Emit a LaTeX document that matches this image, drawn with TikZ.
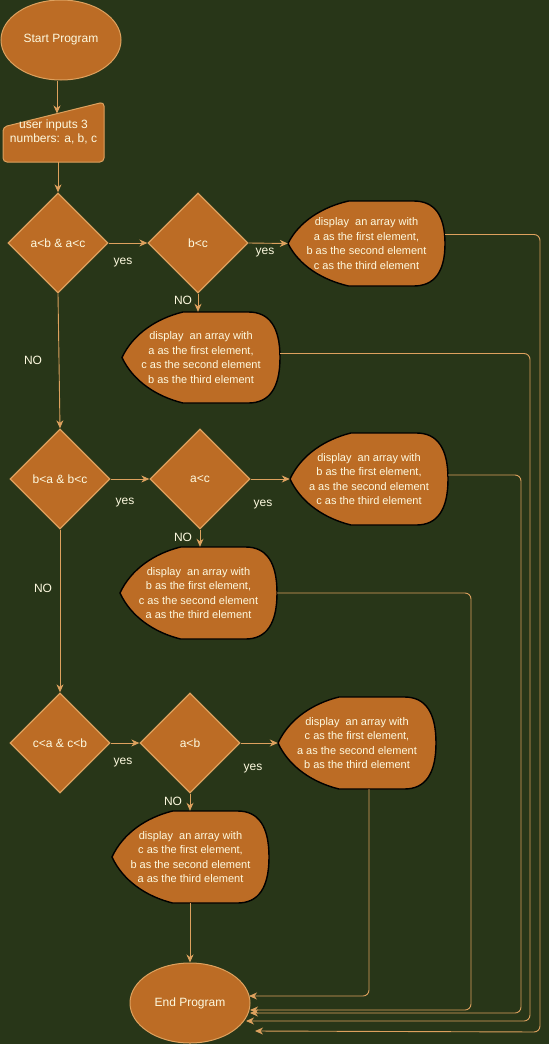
\documentclass[tikz,border=0pt]{standalone}
\usepackage{fontspec}
\setmainfont{Liberation Sans}
\usetikzlibrary{shapes.geometric,arrows.meta}
\definecolor{bgc}{HTML}{283618}
\definecolor{fillc}{HTML}{BC6C25}
\definecolor{linec}{HTML}{DDA15E}
\definecolor{txtc}{HTML}{FEFAE0}
\tikzset{
 every node/.style={text=txtc, font=\fontsize{12}{14}\selectfont},
 term/.style={ellipse, draw=linec, fill=fillc, minimum width=120pt, minimum height=80pt, inner sep=0pt, line width=1pt},
 dec/.style={diamond, draw=linec, fill=fillc, minimum width=100pt, minimum height=100pt, inner sep=0pt, aspect=1, line width=1.3pt},
 conn/.style={draw=linec, line width=0.9pt, -{Stealth[length=8pt,width=7pt,inset=2.5pt]}},
 lbl/.style={font=\fontsize{12}{14}\selectfont},
 dtext/.style={align=center, font=\fontsize{11}{14.5}\selectfont, inner sep=0pt},
 dispshape/.style={fill=fillc, draw=black, line width=1.4pt},
}
\newcommand\dispsh[6]{%
 \begin{scope}[shift={(#2,#3)}, x=#4pt, y=-#5pt]
  \path[dispshape] (0,0.5) .. controls (0.07,0.24) and (0.22,0.07) .. (0.386,0) -- (0.8,0) .. controls (0.933,0) and (1,0.1667) .. (1,0.5) .. controls (1,0.8333) and (0.933,1) .. (0.8,1) -- (0.386,1) .. controls (0.22,0.93) and (0.07,0.76) .. cycle;
  \node[dtext, minimum width=#4pt, minimum height=#5pt] (#1) at (0.5,0.5) {#6};
 \end{scope}}
\begin{document}
\begin{tikzpicture}[x=1pt,y=-1pt]
\useasboundingbox (0,0) rectangle (549,1044);
\fill[bgc] (0,0) rectangle (549,1044);

\node[term] (start) at (61,40) {Start Program};
\draw[draw=linec, fill=fillc, line width=1pt, rounded corners=4pt] (3,127) -- (104,102) -- (104,162) -- (3,162) -- cycle;
\node[align=center, minimum width=101pt, minimum height=60pt, inner sep=0pt] (input) at (53.5,132) {user inputs 3\\numbers: a, b, c};
\coordinate (inTop) at (57,113.5);

\node[dec] (d1) at (58,243) {a<b \& a<c};
\node[dec] (d2) at (198,243) {b<c};
\dispsh{p1}{288}{201}{157}{85}{display\ \ an array with\\a as the first element,\\b as the second element\\c as the third element}
\dispsh{p2}{122}{312}{158}{91}{display\ \ an array with\\a as the first element,\\c as the second element\\b as the third element}

\node[dec] (d3) at (60,479) {b<a \& b<c};
\node[dec] (d4) at (200,479) {a<c};
\dispsh{p3}{290}{433}{158}{92}{display\ \ an array with\\b as the first element,\\a as the second element\\c as the third element}
\dispsh{p4}{120}{547}{157}{92}{display\ \ an array with\\b as the first element,\\c as the second element\\a as the third element}

\node[dec] (d5) at (60,743) {c<a \& c<b};
\node[dec] (d6) at (190,743) {a<b};
\dispsh{p5}{278}{697}{158}{92}{display\ \ an array with\\c as the first element,\\a as the second element\\b as the third element}
\dispsh{p6}{112}{811}{157}{92}{display\ \ an array with\\c as the first element,\\b as the second element\\a as the third element}

\node[term] (end) at (190,1003) {End Program};

% main flow
\draw[conn] ([xshift=-4pt]start.south) -- (inTop);
\draw[conn] (input.south -| d1.north) -- (d1.north);
\draw[conn] (d1.east) -- (d2.west);
\draw[conn] (d2.east) -- (p1.west);
\draw[conn] (d2.south) -- (d2.south |- p2.north);
\draw[conn] (d1.south) -- (d3.north);
\draw[conn] (d3.east) -- (d4.west);
\draw[conn] (d4.east) -- (p3.west);
\draw[conn] (d4.south) -- (d4.south |- p4.north);
\draw[conn] (d3.south) -- (d5.north);
\draw[conn] (d5.east) -- (d6.west);
\draw[conn] (d6.east) -- (p5.west);
\draw[conn] (d6.south) -- (d6.south |- p6.north);
\draw[conn] (p6.south -| end.north) -- (end.north);

% labels
\node[lbl] (l1) at (123,263) {yes};
\node[lbl] (l2) at (265,253) {yes};
\node[lbl] (l3) at (183,300) {NO};
\node[lbl] (l4) at (33,360) {NO};
\node[lbl] (l5) at (125,503) {yes};
\node[lbl] (l6) at (263,505) {yes};
\node[lbl] (l7) at (183,537) {NO};
\node[lbl] (l8) at (43,588) {NO};
\node[lbl] (l9) at (123,763) {yes};
\node[lbl] (l10) at (253,769) {yes};
\node[lbl] (l11) at (173,801) {NO};

% returns to End Program
\coordinate (k5) at (249,996);
\coordinate (s5) at ([xshift=12pt]p5.south);
\draw[conn, rounded corners=6pt] (s5) -- (s5 |- k5) -- (k5);

\coordinate (v4) at (471,1010);
\coordinate (k4) at (250,1010);
\draw[conn, rounded corners=6pt] (p4.east) -- (p4.east -| v4) -- (v4) -- (k4);

\coordinate (v3) at (521,1013);
\coordinate (k3) at (250,1013);
\coordinate (s3) at ([yshift=4pt]p3.east);
\draw[conn, rounded corners=6pt] (s3) -- (s3 -| v3) -- (v3) -- (k3);

\coordinate (v2) at (530,1021);
\coordinate (k2) at (246,1021);
\coordinate (s2) at ([yshift=4pt]p2.east);
\draw[conn, rounded corners=6pt] (s2) -- (s2 -| v2) -- (v2) -- (k2);

\coordinate (v1) at (540,1032);
\coordinate (k1) at (255,1031);
\coordinate (s1) at ([yshift=9pt]p1.east);
\draw[conn, rounded corners=6pt] (s1) -- (s1 -| v1) -- (v1) -- (k1);
\end{tikzpicture}
\end{document}
